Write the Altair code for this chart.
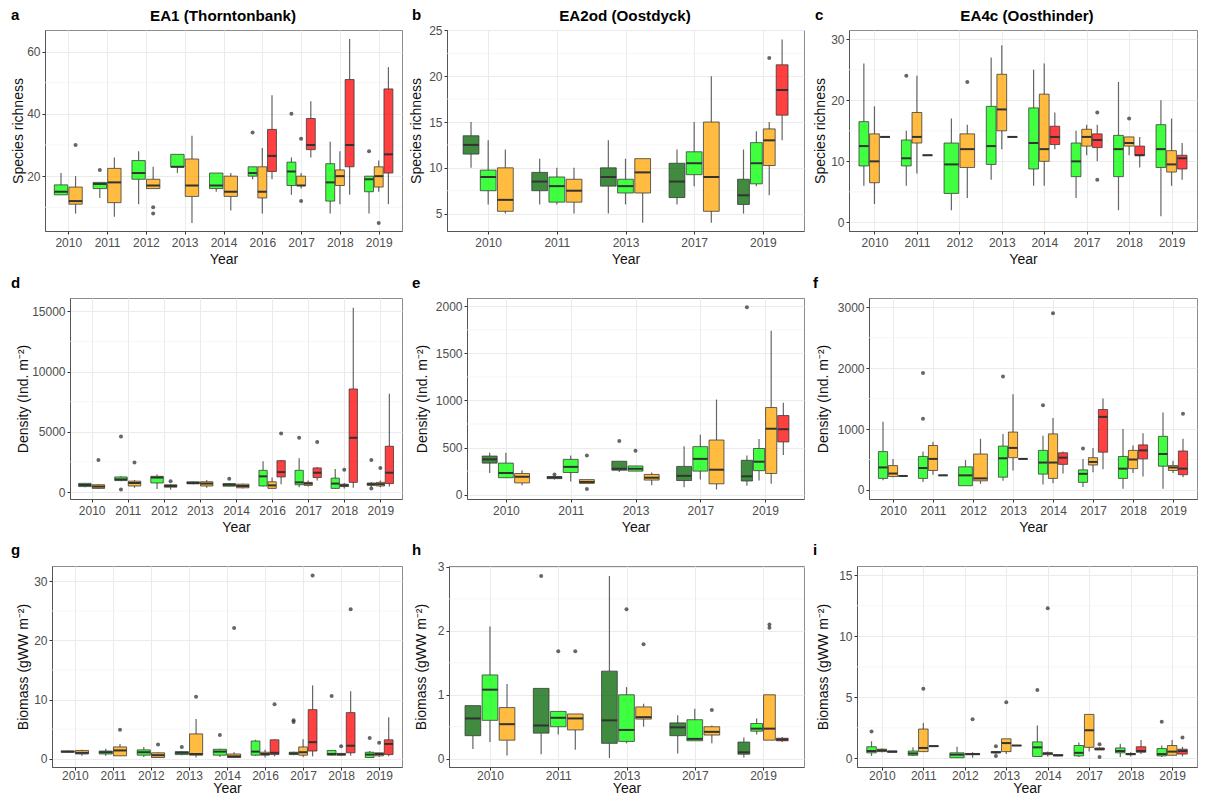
import altair as alt
import pandas as pd

FONT = "Liberation Sans"
GROUPS = ["D", "G", "O", "R"]
COLORS = ["#006400", "#00ff00", "#ffa500", "#ff0000"]

# each box: (year, group, whisker low, q1, median, q3, whisker high, [outliers])
a_years = [2010, 2011, 2012, 2013, 2014, 2016, 2017, 2018, 2019]
a_boxes = [
    (2010, "G", 14, 14, 15, 17.2, 21, []), (2010, "O", 8, 11, 12, 16.5, 20, [30]),
    (2011, "G", 13, 16, 17.5, 18, 18, [22]), (2011, "O", 7, 11.5, 18, 22.5, 26, []),
    (2012, "G", 11, 19, 21, 25, 28, []), (2012, "O", 16, 16, 17, 19, 23, [10, 8]),
    (2013, "G", 21, 23, 23, 27, 27, []), (2013, "O", 5, 13.5, 17, 25.5, 33, []),
    (2014, "G", 15, 16, 17, 21, 21, []), (2014, "O", 9, 13.5, 15, 20, 21, []),
    (2016, "G", 19, 20, 21, 23, 23, [34]), (2016, "O", 8, 13, 15, 23, 29, []), (2016, "R", 19, 21.5, 26.5, 35, 46, []),
    (2017, "G", 14, 17, 21.5, 24.5, 26, [40]), (2017, "O", 16, 17, 17, 20, 21, [32, 12]), (2017, "R", 26, 28.5, 30, 38.5, 44, []),
    (2018, "G", 8, 12, 18, 24, 31, []), (2018, "O", 11, 17, 20, 22, 28, []), (2018, "R", 14, 23, 30, 51, 64, []),
    (2019, "G", 8, 15, 19, 20, 20, [28]), (2019, "O", 15, 16.5, 20, 23, 25, [5]), (2019, "R", 11, 21, 27, 48, 55, []),
]
b_years = [2010, 2011, 2013, 2017, 2019]
b_boxes = [
    (2010, "D", 10, 11.5, 12.5, 13.5, 15, []), (2010, "G", 6, 7.5, 9, 9.75, 13, []), (2010, "O", 5, 5.25, 6.5, 10, 12, []),
    (2011, "D", 6, 7.5, 8.5, 9.5, 11, []), (2011, "G", 6, 6.25, 8, 9, 10, []), (2011, "O", 5, 6.25, 7.5, 8.75, 10, []),
    (2013, "D", 5, 8, 9, 10, 13, []), (2013, "G", 6, 7.25, 8, 8.75, 11, []), (2013, "O", 4, 7.25, 9.5, 11, 11, []),
    (2017, "D", 6, 6.75, 8.5, 10.5, 12, []), (2017, "G", 8, 9.25, 10.5, 11.75, 15, []), (2017, "O", 4, 5.25, 9, 15, 20, []),
    (2019, "D", 5, 6, 7, 8.75, 12, []), (2019, "G", 8, 8.25, 10.5, 12.75, 14, []), (2019, "O", 7, 10.25, 13, 14.25, 15, [22]), (2019, "R", 13, 15.75, 18.5, 21.25, 24, []),
]
c_years = [2010, 2011, 2012, 2013, 2014, 2017, 2018, 2019]
c_boxes = [
    (2010, "G", 6, 9.25, 12.5, 16.5, 26, []), (2010, "O", 3, 6.5, 10, 14.5, 19, []), (2010, "R", 14, 14, 14, 14, 14, []),
    (2011, "G", 6, 9.25, 10.5, 13.5, 15, [24]), (2011, "O", 8, 13, 14, 18, 24, []), (2011, "R", 11, 11, 11, 11, 11, []),
    (2012, "G", 2, 4.75, 9.5, 13, 17, []), (2012, "O", 4, 9, 12, 14.5, 16, [23]),
    (2013, "G", 7, 9.5, 12.5, 19, 27, []), (2013, "O", 12, 15, 18.5, 24.25, 29, []), (2013, "R", 14, 14, 14, 14, 14, []),
    (2014, "G", 6, 8.75, 13, 18.75, 25, []), (2014, "O", 6, 10, 12, 21, 26, []), (2014, "R", 12, 12.75, 14, 15.75, 18, []),
    (2017, "G", 4, 7.5, 10, 13, 15, []), (2017, "O", 11, 12.5, 14, 15.25, 16, []), (2017, "R", 10, 12.25, 13.5, 14.5, 16, [18, 7]),
    (2018, "G", 2, 7.5, 12, 14.25, 23, []), (2018, "O", 11, 12.5, 13, 14, 14, [17]), (2018, "R", 9, 11, 11, 12.5, 14, []),
    (2019, "G", 1, 9, 12, 16, 20, []), (2019, "O", 6, 8.25, 9.5, 11.75, 17, []), (2019, "R", 7, 8.75, 10.5, 11, 13, []),
]
d_boxes = [
    (2010, "G", 400, 450, 580, 720, 750, []), (2010, "O", 250, 300, 450, 600, 650, [2650]),
    (2011, "G", 900, 950, 1050, 1250, 1300, [4600, 200]), (2011, "O", 350, 500, 750, 900, 1000, [2450]),
    (2012, "G", 250, 750, 1200, 1300, 1450, []), (2012, "O", 200, 400, 500, 600, 650, [900]),
    (2013, "G", 650, 680, 750, 850, 900, []), (2013, "O", 350, 500, 700, 850, 1000, []),
    (2014, "G", 450, 480, 600, 700, 750, [1100]), (2014, "O", 300, 350, 500, 650, 700, []),
    (2016, "G", 450, 500, 1300, 1800, 2550, []), (2016, "O", 250, 300, 550, 850, 1200, []), (2016, "R", 650, 1250, 1650, 2600, 2650, [4850]),
    (2017, "G", 400, 600, 800, 1800, 2800, [4500]), (2017, "O", 450, 550, 700, 800, 950, []), (2017, "R", 950, 1200, 1600, 2000, 2050, [4150]),
    (2018, "G", 250, 300, 700, 1150, 1900, []), (2018, "O", 300, 450, 550, 650, 750, [1850]), (2018, "R", 350, 800, 4500, 8550, 15300, []),
    (2019, "G", 400, 550, 650, 750, 800, [2650, 300]), (2019, "O", 400, 500, 650, 800, 950, [2000]), (2019, "R", 450, 700, 1600, 3800, 8150, []),
]
e_boxes = [
    (2010, "D", 230, 335, 375, 410, 445, []), (2010, "G", 180, 180, 230, 335, 445, []), (2010, "O", 100, 125, 190, 225, 260, []),
    (2011, "D", 160, 170, 185, 190, 190, [215]), (2011, "G", 140, 235, 295, 375, 415, []), (2011, "O", 120, 120, 135, 160, 160, [60, 415]),
    (2013, "D", 240, 260, 275, 355, 355, [570]), (2013, "G", 250, 250, 275, 305, 305, [465]), (2013, "O", 100, 155, 180, 215, 235, []),
    (2017, "D", 80, 150, 200, 300, 515, []), (2017, "G", 160, 250, 380, 510, 635, []), (2017, "O", 55, 115, 265, 580, 1010, []),
    (2019, "D", 95, 145, 195, 365, 415, [1990]), (2019, "G", 150, 255, 350, 490, 590, []), (2019, "O", 115, 225, 700, 925, 1740, []), (2019, "R", 420, 560, 695, 840, 975, []),
]
f_boxes = [
    (2010, "G", 160, 190, 370, 630, 1120, []), (2010, "O", 210, 220, 270, 400, 510, []), (2010, "R", 230, 230, 230, 230, 230, []),
    (2011, "G", 130, 190, 360, 550, 630, [1920, 1170]), (2011, "O", 250, 320, 510, 730, 790, []), (2011, "R", 240, 240, 240, 240, 240, []),
    (2012, "G", 70, 70, 240, 380, 490, []), (2012, "O", 100, 150, 190, 590, 840, []),
    (2013, "G", 150, 210, 520, 720, 920, [1860]), (2013, "O", 320, 530, 690, 950, 1570, []), (2013, "R", 510, 510, 510, 510, 510, []),
    (2014, "G", 90, 260, 450, 650, 890, [1390]), (2014, "O", 110, 190, 450, 920, 1180, [2900]), (2014, "R", 270, 420, 530, 610, 630, []),
    (2017, "G", 50, 125, 265, 330, 510, [680]), (2017, "O", 290, 410, 460, 530, 690, []), (2017, "R", 340, 620, 1200, 1320, 1500, []),
    (2018, "G", 20, 190, 350, 550, 1000, []), (2018, "O", 280, 350, 500, 650, 730, []), (2018, "R", 220, 510, 650, 740, 930, []),
    (2019, "G", 20, 390, 590, 880, 1270, []), (2019, "O", 280, 320, 370, 400, 480, []), (2019, "R", 210, 250, 350, 640, 840, [1250]),
]
g_boxes = [
    (2010, "G", 1.0, 1.1, 1.2, 1.3, 1.4, []), (2010, "O", 0.5, 0.8, 1.0, 1.4, 1.5, []),
    (2011, "G", 0.5, 0.8, 1.1, 1.3, 1.7, []), (2011, "O", 0.5, 0.5, 1.4, 2.0, 2.5, [4.9]),
    (2012, "G", 0.3, 0.6, 1.1, 1.5, 2.0, []), (2012, "O", 0.2, 0.2, 0.6, 1.0, 1.1, [2.4]),
    (2013, "G", 0.6, 0.7, 1.0, 1.2, 1.3, [2.0]), (2013, "O", 0.2, 0.6, 0.8, 4.2, 6.7, [10.5]),
    (2014, "G", 0.3, 0.6, 1.2, 1.6, 1.7, [4.0]), (2014, "O", 0.2, 0.2, 0.4, 0.8, 1.1, [22.1]),
    (2016, "G", 0.5, 0.6, 1.2, 3.0, 3.2, []), (2016, "O", 0.2, 0.6, 0.8, 1.1, 1.5, []), (2016, "R", 0.4, 0.7, 1.0, 3.2, 3.3, [9.2]),
    (2017, "G", 0.6, 0.7, 0.9, 1.1, 1.2, [6.5, 6.2]), (2017, "O", 0.3, 0.6, 1.1, 2.0, 3.3, []), (2017, "R", 0.4, 1.3, 2.8, 8.3, 12.4, [31]),
    (2018, "G", 0.5, 0.6, 0.8, 1.4, 1.4, [10.6]), (2018, "O", 0.5, 0.6, 0.75, 0.9, 0.9, [2.1]), (2018, "R", 0.5, 1.0, 2.2, 7.8, 11.4, [25.3]),
    (2019, "G", 0.2, 0.2, 0.7, 1.1, 1.3, [3.5]), (2019, "O", 0.3, 0.5, 0.8, 1.0, 1.0, [2.7]), (2019, "R", 0.4, 0.7, 2.5, 3.2, 7.0, []),
]
h_boxes = [
    (2010, "D", 0.15, 0.36, 0.63, 0.83, 0.83, []), (2010, "G", 0.26, 0.6, 1.08, 1.31, 2.07, []), (2010, "O", 0.05, 0.29, 0.54, 0.8, 1.17, []),
    (2011, "D", 0.07, 0.4, 0.52, 1.1, 1.1, [2.86]), (2011, "G", 0.38, 0.5, 0.64, 0.74, 0.74, [1.68]), (2011, "O", 0.14, 0.45, 0.63, 0.7, 0.7, [1.68]),
    (2013, "D", 0.01, 0.24, 0.6, 1.37, 2.86, []), (2013, "G", 0.24, 0.27, 0.45, 1.0, 1.12, [2.34]), (2013, "O", 0.5, 0.62, 0.65, 0.81, 0.86, [1.79]),
    (2017, "D", 0.08, 0.36, 0.49, 0.56, 0.68, []), (2017, "G", 0.28, 0.28, 0.31, 0.61, 0.78, []), (2017, "O", 0.24, 0.37, 0.42, 0.5, 0.52, [0.76]),
    (2019, "D", 0.02, 0.07, 0.1, 0.26, 0.33, []), (2019, "G", 0.38, 0.43, 0.47, 0.55, 0.63, []), (2019, "O", 0.29, 0.29, 0.47, 1.0, 1.0, [2.1, 2.05]), (2019, "R", 0.26, 0.28, 0.3, 0.32, 0.34, []),
]
i_boxes = [
    (2010, "G", 0.2, 0.45, 0.6, 0.95, 1.4, [2.2]), (2010, "O", 0.5, 0.55, 0.65, 0.75, 0.8, []), (2010, "R", 0.5, 0.5, 0.55, 0.6, 0.6, []),
    (2011, "G", 0.2, 0.25, 0.4, 0.6, 0.9, []), (2011, "O", 0.55, 0.55, 0.85, 2.4, 2.9, [5.7]), (2011, "R", 1.0, 1.0, 1.0, 1.0, 1.0, []),
    (2012, "G", 0.05, 0.05, 0.3, 0.45, 0.95, []), (2012, "O", 0.05, 0.3, 0.35, 0.4, 0.5, [3.2]),
    (2013, "G", 0.35, 0.45, 0.5, 0.55, 0.6, [1.0, 0.2]), (2013, "O", 0.35, 0.55, 1.25, 1.6, 1.6, [4.6]), (2013, "R", 1.05, 1.05, 1.05, 1.05, 1.05, []),
    (2014, "G", 0.1, 0.15, 0.9, 1.35, 2.7, [5.6]), (2014, "O", 0.15, 0.3, 0.4, 0.45, 0.55, [12.3]), (2014, "R", 0.2, 0.2, 0.25, 0.3, 0.3, []),
    (2017, "G", 0.1, 0.2, 0.45, 1.05, 1.3, []), (2017, "O", 0.55, 0.9, 2.3, 3.6, 3.6, []), (2017, "R", 0.7, 0.7, 0.75, 0.85, 0.9, [1.15, 0.1]),
    (2018, "G", 0.1, 0.45, 0.6, 0.85, 1.2, []), (2018, "O", 0.15, 0.3, 0.35, 0.4, 0.5, []), (2018, "R", 0.35, 0.5, 0.6, 0.95, 1.5, []),
    (2019, "G", 0.1, 0.2, 0.35, 0.8, 1.05, [3.0]), (2019, "O", 0.25, 0.25, 0.55, 1.05, 1.5, []), (2019, "R", 0.15, 0.35, 0.6, 0.75, 0.95, [1.7]),
]

SPECIES = "Species richness"
DENSITY = "Density (Ind. m⁻²)"
BIOMASS = "Biomass (gWW m⁻²)"

# letter, boxes, years, y title, y domain, major ticks, minor grid, title, layout numbers
PANELS = [
    ("a", a_boxes, a_years, SPECIES, [2.4, 66.9], [20, 40, 60], [10, 30, 50], "EA1 (Thorntonbank)", 357, -34, -10, -20, 3.5, 4),
    ("b", b_boxes, b_years, SPECIES, [3.1, 25.05], [5, 10, 15, 20, 25], [7.5, 12.5, 17.5, 22.5], "EA2od (Oostdyck)", 357, -35, -10, -24, 3.5, 4),
    ("c", c_boxes, c_years, SPECIES, [-1.4, 31.5], [0, 10, 20, 30], [5, 15, 25], "EA4c (Oosthinder)", 348, -34, -10, -22, 3.5, 4),
    ("d", d_boxes, a_years, DENSITY, [-580, 16100], [0, 5000, 10000, 15000], [2500, 7500, 12500], None, 332, -59, -10, -40, 3.5, 4),
    ("e", e_boxes, b_years, DENSITY, [-46, 2088], [0, 500, 1000, 1500, 2000], [250, 750, 1250, 1750], None, 337, -55, -10, -38, 3.5, 4),
    ("f", f_boxes, c_years, DENSITY, [-148, 3150], [0, 1000, 2000, 3000], [500, 1500, 2500], None, 328, -56, -10, -39, 3.5, 4),
    ("g", g_boxes, a_years, BIOMASS, [-1.4, 32.6], [0, 10, 20, 30], [5, 15, 25], None, 350, -41, -11, -22, 0.5, 0),
    ("h", h_boxes, b_years, BIOMASS, [-0.13, 3.015], [0, 1, 2, 3], [0.5, 1.5, 2.5], None, 355, -37, -11, -21, 0.5, 0),
    ("i", i_boxes, c_years, BIOMASS, [-0.71, 15.76], [0, 5, 10, 15], [2.5, 7.5, 12.5], None, 340, -44, -11, -27, 0.5, 0),
]
# empty column widths before each panel: one row per grid row
GAPS = [[1, 45, 45], [26, 65, 65], [8, 47, 53]]
PLOT_H = 201
ROW_STEP = 268


def tables(boxes, years):
    rows, outs = [], []
    for yr in years:
        sel = [b for b in boxes if b[0] == yr]
        pitch = 0.75 / len(sel)
        for k, b in enumerate(sel):
            c = years.index(yr) + 1 - 0.375 + pitch * (k + 0.5)
            rows.append(dict(xc=c, x0=c - pitch * 0.46, x1=c + pitch * 0.46, group=b[1],
                             lo=b[2], q1=b[3], med=b[4], q3=b[5], hi=b[6]))
            outs += [dict(xc=c, v=o) for o in b[7]]
    return pd.DataFrame(rows), pd.DataFrame(outs, columns=["xc", "v"])


def label(text, x, y, size, align, weight="bold"):
    return alt.Chart(pd.DataFrame({"t": [text]})).mark_text(
        font=FONT, fontSize=size, fontWeight=weight, align=align, baseline="alphabetic", color="black"
    ).encode(text="t:N", x=alt.value(x), y=alt.value(y))


def panel(letter, boxes, years, ytitle, ydom, major, minor, title, w, lx, ly, tx, lpad, xpad):
    df, out = tables(boxes, years)
    n = len(years)
    xs = alt.Scale(domain=[0.4, n + 0.6], nice=False, zero=False)
    ys = alt.Scale(domain=ydom, nice=False, zero=False)
    labels = "[" + ",".join(f"'{y}'" for y in years) + "][datum.value-1]"
    xax = alt.Axis(title="Year", values=list(range(1, n + 1)), labelExpr=labels, titlePadding=xpad,
                   labelPadding=lpad, labelOverlap=False)
    yax = alt.Axis(title=ytitle, values=major, titleX=tx, labelOverlap=False, format="d")
    X = alt.X("xc:Q", scale=xs, axis=xax)
    Y = alt.Y("q1:Q", scale=ys, axis=yax)
    grid = alt.Chart(pd.DataFrame({"m": minor})).mark_rule(color="#f2f2f2", strokeWidth=0.7).encode(
        y=alt.Y("m:Q", scale=ys, axis=yax))
    base = alt.Chart(df)
    up = base.mark_rule(color="#333333", opacity=0.75, strokeWidth=1.2).encode(x=X, y=alt.Y("q3:Q", scale=ys, axis=yax), y2="hi:Q")
    down = base.mark_rule(color="#333333", opacity=0.75, strokeWidth=1.2).encode(x=X, y=alt.Y("lo:Q", scale=ys, axis=yax), y2="q1:Q")
    box = base.mark_rect(stroke="#333333", strokeOpacity=0.75, strokeWidth=1, fillOpacity=0.75).encode(
        x=alt.X("x0:Q", scale=xs, axis=xax), x2="x1:Q", y=Y, y2="q3:Q",
        color=alt.Color("group:N", scale=alt.Scale(domain=GROUPS, range=COLORS), legend=None))
    med = base.mark_rule(color="#333333", strokeWidth=2).encode(
        x=alt.X("x0:Q", scale=xs, axis=xax), x2="x1:Q", y=alt.Y("med:Q", scale=ys, axis=yax))
    pts = alt.Chart(out).mark_circle(size=16, color="#333333", opacity=0.75).encode(
        x=X, y=alt.Y("v:Q", scale=ys, axis=yax))
    layers = [grid, up, down, box, med, pts, label(letter, lx, ly, 15, "left")]
    if title:
        layers.append(label(title, 178, -9, 15.2, "center"))
    return alt.layer(*layers).properties(width=w, height=PLOT_H)


def spacer(w):
    return alt.Chart(pd.DataFrame({"s": [0]})).mark_point(opacity=0).encode(
        x=alt.value(0), y=alt.value(0)
    ).properties(width=w, height=PLOT_H, view=alt.ViewConfig(stroke="transparent"))


rows = []
for r in range(3):
    cells = []
    for c in range(3):
        cells.append(spacer(GAPS[r][c]))
        cells.append(panel(*PANELS[r * 3 + c]))
    rows.append(alt.hconcat(*cells, spacing=0, bounds="flush"))

# fixed canvas: vega-embed reads these options from the spec itself
fixed_canvas = [
    {"op": "add", "path": "/autosize", "value": {"type": "none"}},
    {"op": "add", "path": "/width", "value": 1154},
    {"op": "add", "path": "/height", "value": 763},
]

chart = alt.vconcat(*rows, spacing=ROW_STEP, bounds="flush").properties(
    padding={"left": 36, "top": 22, "right": 0, "bottom": 0},
    usermeta={"embedOptions": {"patch": fixed_canvas, "defaultStyle": "svg{display:block}"}},
).configure_view(stroke="#8c8c8c", strokeWidth=1).configure_axis(
    labelFont=FONT, titleFont=FONT, labelFontSize=12, titleFontSize=14, titleFontWeight="normal",
    labelColor="#4d4d4d", titleColor="#111111", tickColor="#333333", tickSize=3,
    gridColor="#ebebeb", gridWidth=1, domainColor="#555555", domainWidth=1,
)

chart.save("out.html", embed_options={"renderer": "svg", "actions": False})
